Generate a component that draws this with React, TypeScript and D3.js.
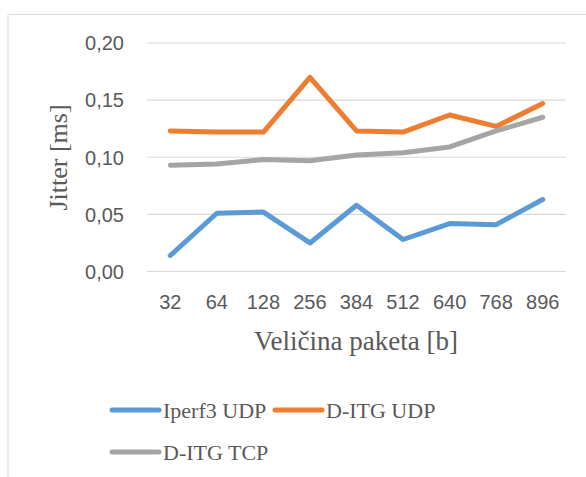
import React from "react";
import * as d3 from "d3";

const categories = ["32", "64", "128", "256", "384", "512", "640", "768", "896"];
const iperf3Udp = [0.014, 0.051, 0.052, 0.025, 0.058, 0.028, 0.042, 0.041, 0.063];
const ditgUdp = [0.123, 0.122, 0.122, 0.170, 0.123, 0.122, 0.137, 0.127, 0.147];
const ditgTcp = [0.093, 0.094, 0.098, 0.097, 0.102, 0.104, 0.109, 0.123, 0.135];
const yTicks = [0, 0.05, 0.1, 0.15, 0.2];
const seriesNames = ["Iperf3 UDP", "D-ITG UDP", "D-ITG TCP"];

const W = 586;
const H = 477;
const colors = ["#5B9BD5", "#ED7D31", "#A5A5A5"];
const textColor = "#595959";
const sans = "'Liberation Sans', Arial, sans-serif";
const serif = "'Liberation Serif', 'Times New Roman', serif";

export default function App() {
  const x = d3.scalePoint<string>().domain(categories).range([147, 566]).padding(0.5);
  const y = d3.scaleLinear().domain([0, 0.2]).range([271.5, 43]);
  const line = d3
    .line<number>()
    .x((_, i) => x(categories[i]) as number)
    .y((d) => y(d));
  const series = [iperf3Udp, ditgUdp, ditgTcp];
  const fmt = (v: number) => v.toFixed(2).replace(".", ",");

  const legend = [
    { name: seriesNames[0], color: colors[0], lx: 112, ly: 410 },
    { name: seriesNames[1], color: colors[1], lx: 275, ly: 410 },
    { name: seriesNames[2], color: colors[2], lx: 112, ly: 452 },
  ];

  return (
    <svg
      width={W}
      height={H}
      style={{ position: "absolute", left: 0, top: 0, background: "#fff" }}
    >
      <rect x={0} y={0} width={W} height={H} fill="#fff" />
      <path d={`M8,${H} V14.5 H${W}`} fill="none" stroke="#D9D9D9" strokeWidth={1} />
      {yTicks.map((t) => (
        <g key={t}>
          <line x1={147} x2={566} y1={y(t)} y2={y(t)} stroke="#D9D9D9" strokeWidth={1.2} />
          <text
            x={124}
            y={y(t) + 7.3}
            textAnchor="end"
            fontFamily={sans}
            fontSize={20}
            fill={textColor}
          >
            {fmt(t)}
          </text>
        </g>
      ))}
      {categories.map((c) => (
        <text
          key={c}
          x={x(c) as number}
          y={309}
          textAnchor="middle"
          fontFamily={sans}
          fontSize={20}
          fill={textColor}
        >
          {c}
        </text>
      ))}
      {series.map((s, i) => (
        <path
          key={i}
          d={line(s) || ""}
          fill="none"
          stroke={colors[i]}
          strokeWidth={5}
          strokeLinecap="round"
          strokeLinejoin="round"
        />
      ))}
      <text
        x={356}
        y={350}
        textAnchor="middle"
        fontFamily={serif}
        fontSize={27}
        fill={textColor}
      >
        Veličina paketa [b]
      </text>
      <text
        transform="translate(67,157.5) rotate(-90)"
        textAnchor="middle"
        fontFamily={serif}
        fontSize={26}
        fill={textColor}
      >
        Jitter [ms]
      </text>
      {legend.map((l) => (
        <g key={l.name}>
          <line
            x1={l.lx}
            x2={l.lx + 47}
            y1={l.ly}
            y2={l.ly}
            stroke={l.color}
            strokeWidth={5}
            strokeLinecap="round"
          />
          <text
            x={l.lx + 51}
            y={l.ly + 7.5}
            fontFamily={serif}
            fontSize={22}
            fill={textColor}
          >
            {l.name}
          </text>
        </g>
      ))}
    </svg>
  );
}
